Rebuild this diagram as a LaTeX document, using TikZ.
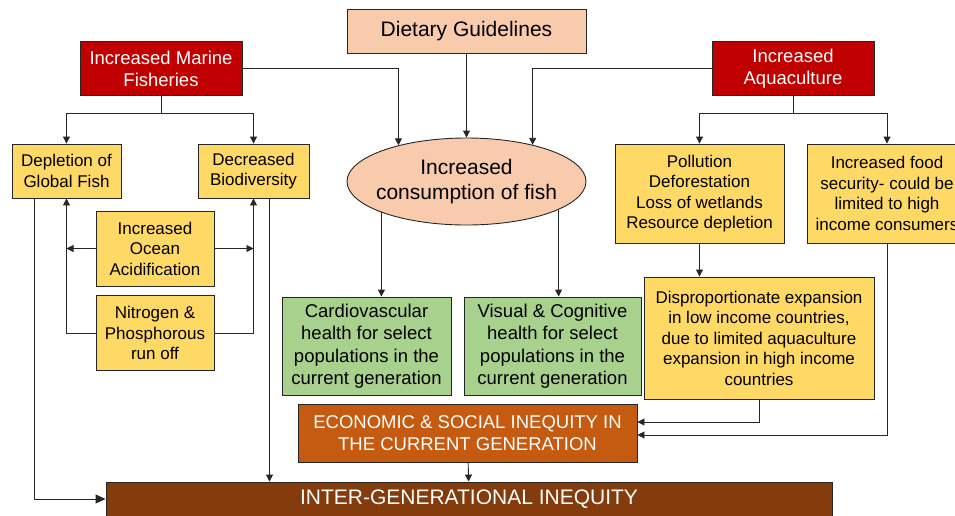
\documentclass[tikz,border=0pt]{standalone}
\usepackage{fontspec}
\setmainfont{Liberation Sans}
\usetikzlibrary{arrows.meta,shapes,positioning}

\definecolor{crimsonbox}{HTML}{C00000}
\definecolor{salmonbox}{HTML}{F8CBAD}
\definecolor{sandbox}{HTML}{FFD966}
\definecolor{leafbox}{HTML}{A9D18E}
\definecolor{rustbox}{HTML}{C55A11}
\definecolor{umberbox}{HTML}{843C0C}

\begin{document}
\begin{tikzpicture}[x=1pt,y=-1pt,line width=0.9pt,
    >={Triangle[length=7pt,width=7pt]},
    box/.style={draw=black!85,align=center,inner sep=0pt},
    source/.style={box,fill=crimsonbox,text=white,font=\fontsize{18.5}{22}\selectfont,minimum width=162pt,minimum height=54pt},
    effect/.style={box,fill=sandbox,font=\fontsize{17}{20.5}\selectfont},
    health/.style={box,fill=leafbox,font=\fontsize{18.5}{22.5}\selectfont,minimum height=98pt},
    wire/.style={draw=black!85}]
        \useasboundingbox (0,0) rectangle (955,515);

        \node[box,fill=salmonbox,minimum width=239pt,minimum height=44pt,font=\fontsize{21}{25}\selectfont] (diet) at (466.5,31) {Dietary Guidelines};
        \node[source] (marine) at (161,68.5) {Increased Marine\\Fisheries};
        \node[source] (aqua) at (793,68.5) {Increased\\Aquaculture};
        \node[effect,minimum width=109pt,minimum height=54pt] (depl) at (66.5,171) {Depletion of\\Global Fish};
        \node[effect,minimum width=111pt,minimum height=54pt] (biod) at (253.5,171) {Decreased\\Biodiversity};
        \node[effect,minimum width=118pt,minimum height=75pt] (acid) at (155,248.5) {Increased\\Ocean\\Acidification};
        \node[effect,minimum width=118pt,minimum height=75pt,below=9pt of acid] (nitro) {Nitrogen \&\\Phosphorous\\run off};
        \node[ellipse,box,fill=salmonbox,inner xsep=-8pt,minimum width=239pt,minimum height=87pt,font=\fontsize{21}{25}\selectfont] (fish) at (466.5,181.5) {Increased\\consumption of fish};
        \node[effect,minimum width=169pt,minimum height=99pt] (poll) at (699.5,193.5) {Pollution\\Deforestation\\Loss of wetlands\\Resource depletion};
        \node[effect,minimum width=160pt,minimum height=99pt] (food) at (887,193.5) {Increased food\\security- could be\\limited to high\\income consumers};
        \node[health,minimum width=169pt] (cardio) at (366.5,346) {Cardiovascular\\health for select\\populations in the\\current generation};
        \node[health,minimum width=177pt] (visual) at (552.5,346) {Visual \& Cognitive\\health for select\\populations in the\\current generation};
        \node[effect,minimum width=230pt,minimum height=122pt] (disp) at (759,338) {Disproportionate expansion\\in low income countries,\\due to limited aquaculture\\expansion in high income\\countries};
        \node[box,fill=rustbox,text=white,minimum width=339pt,minimum height=58pt,font=\fontsize{18.5}{22}\selectfont] (econ) at (467.5,433) {ECONOMIC \& SOCIAL INEQUITY IN\\THE CURRENT GENERATION};
        \node[box,fill=umberbox,text=white,minimum width=726pt,minimum height=34pt,font=\fontsize{21}{25}\selectfont] (inter) at (469,499) {INTER-GENERATIONAL INEQUITY};

        \coordinate (mfork) at (161,113);
        \coordinate (afork) at (793,113);

        \draw[wire] (marine) -- (mfork);
        \draw[wire,->] (mfork) -| (depl);
        \draw[wire,->] (mfork) -| (biod);
        \draw[wire,->] (marine.east) -| (fish.152);
        \draw[wire,->] (diet) -- (fish);
        \draw[wire,->] (aqua.west) -| (fish.29);
        \draw[wire] (aqua) -- (afork);
        \draw[wire,->] (afork) -| (poll);
        \draw[wire,->] (afork) -| (food);
        \draw[wire,->] (fish.200) -- (fish.200 |- cardio.north);
        \draw[wire,->] (fish.-17) -- (fish.-17 |- visual.north);
        \draw[wire,->] (poll) -- (poll |- disp.north);
        \draw[wire,->] (disp) |- ([yshift=11pt]econ.east);
        \draw[wire,->] (food) |- ([yshift=-2pt]econ.east);
        \draw[wire,->] (econ) -- (inter);
        \draw[wire,-{Triangle[length=10pt,width=9pt]}] ([xshift=-32pt]depl.south) |- (inter.west);
        \draw[wire,->] ([xshift=16pt]biod.south) -- ([xshift=16pt]biod.south |- inter.north);
        \draw[wire,->] (acid) -- (acid -| depl.south);
        \draw[wire,->] (acid) -- (acid -| biod.south);
        \draw[wire,->] (nitro) -| (depl);
        \draw[wire,->] (nitro) -| (biod);
\end{tikzpicture}
\end{document}
